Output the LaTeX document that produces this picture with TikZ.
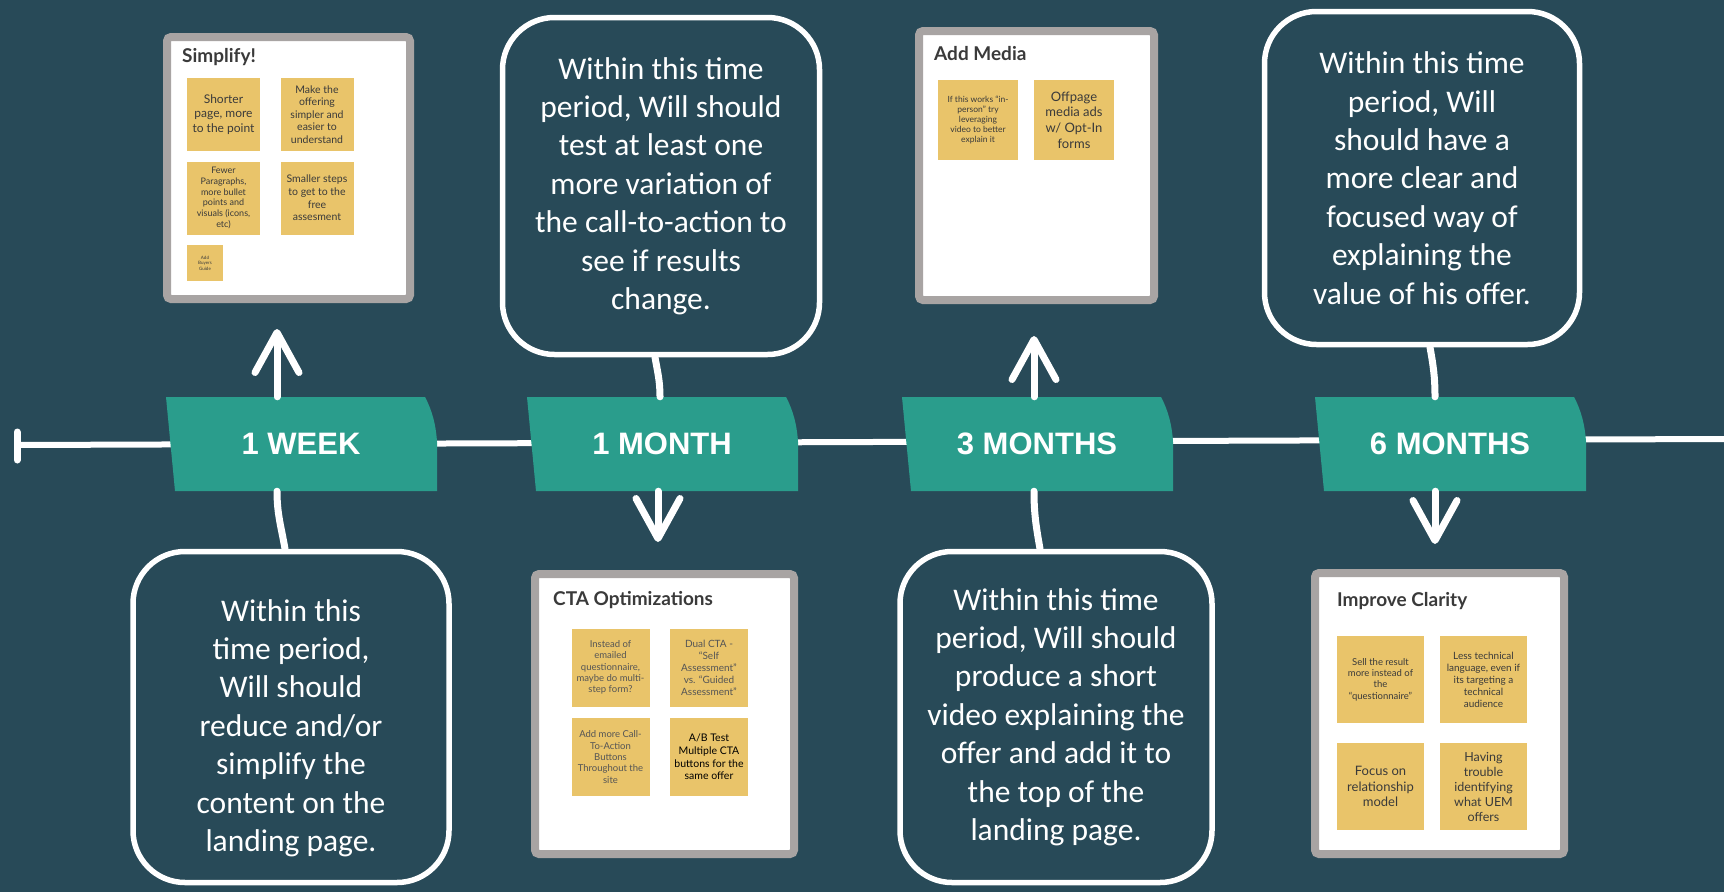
\documentclass[tikz,border=0pt]{standalone}
\usepackage{fontspec}
\setmainfont{Carlito}
\newfontfamily\tagfont{Liberation Sans}
\newfontfamily\notefont{Lato}
\usetikzlibrary{arrows.meta}

\definecolor{bg}{HTML}{284A58}
\definecolor{tagfill}{HTML}{2A9D8C}
\definecolor{notefill}{HTML}{E9C46A}
\definecolor{frame}{HTML}{A8A4A3}
\definecolor{ink}{HTML}{3A3A3A}
\definecolor{softink}{HTML}{555555}

% font size with 1.2 line spacing
\newcommand{\fs}[1]{\fontsize{#1}{\dimexpr#1pt*6/5\relax}\selectfont}

% teal date banner: #1 = left edge, #2 = name, #3 = label
\newcommand{\timetag}[3]{%
  \fill[tagfill] (#1,397) -- (#1+259,397)
    .. controls (#1+266,410) and (#1+270,425) .. (#1+271,442)
    -- (#1+271,491) -- (#1+9,491) -- cycle;
  \node[tag] (#2) at (#1+135,444) {#3};
}

\tikzset{
  callout/.style={draw=white, line width=5.5pt, rounded corners=52pt, align=center,
    text=white, font=\fontsize{31.5}{38.4}\selectfont},
  tag/.style={minimum width=262pt, minimum height=94pt, inner sep=0pt, text=white,
    font=\tagfont\bfseries\fontsize{31}{31}\selectfont},
  card/.style={draw=frame, fill=white, line width=8pt, rounded corners=4pt},
  cardtitle/.style={anchor=base west, inner sep=0pt, text=ink,
    font=\notefont\bfseries\fontsize{19}{22}\selectfont},
  note/.style={fill=notefill, minimum size=#1, inner sep=1pt, align=center, text=ink},
  stem/.style={draw=white, line width=7pt, line cap=round},
  vtip/.style={-{Straight Barb[length=40pt, width=44pt, line cap=round, line join=round]}}
}

\begin{document}
\begin{tikzpicture}[x=1pt, y=-1pt]
  \fill[bg] (0,0) rectangle (1724,892);
  \useasboundingbox (0,0) rectangle (1724,892);

  % Timeline
  \coordinate (start) at (17,445);
  \coordinate (end) at (1724,439);
  \draw[white, line width=6pt] (start) -- (end);
  \draw[stem] (17,432) -- (17,460);

  % Banners
  \timetag{166}{w1}{1 WEEK}
  \timetag{527}{m1}{1 MONTH}
  \timetag{902}{m3}{3 MONTHS}
  \timetag{1315}{m6}{6 MONTHS}

  % Boards
  \node[card, minimum width=243pt, minimum height=262pt] (simplify) at (288.5,168) {};
  \node[cardtitle] (simplifytitle) at (182,62) {Simplify!};
  \node[note=73pt, font=\notefont\fs{12}] (simp1) at (223.5,114.5) {Shorter\\page, more\\to the point};
  \node[note=73pt, font=\notefont\fs{10.5}] (simp2) at (317,114.5) {Make the\\offering\\simpler and\\easier to\\understand};
  \node[note=73pt, font=\notefont\fs{9}] (simp3) at (223.5,198) {Fewer\\Paragraphs,\\more bullet\\points and\\visuals (icons,\\etc)};
  \node[note=73pt, font=\notefont\fs{10.5}] (simp4) at (317,198) {Smaller steps\\to get to the\\free\\assesment};
  \node[note=36pt, font=\notefont\fs{4.5}] (simp5) at (205,263) {Add\\Buyers\\Guide};

  \node[card, minimum width=235pt, minimum height=269pt] (media) at (1036.5,165.5) {};
  \node[cardtitle] (mediatitle) at (934,60) {Add Media};
  \node[note=80pt, font=\notefont\fs{8.5}] (media1) at (978,120) {If this works “in-\\person” try\\leveraging\\video to better\\explain it};
  \node[note=80pt, font=\notefont\fs{13}] (media2) at (1074,120) {Offpage\\media ads\\w/ Opt-In\\forms};

  \node[card, minimum width=259pt, minimum height=280pt] (cta) at (664.5,714) {};
  \node[cardtitle] (ctatitle) at (553,605) {CTA Optimizations};
  \node[note=78pt, font=\notefont\fs{9.5}, text=softink] (cta1) at (610.5,667.5) {Instead of\\emailed\\questionnaire,\\maybe do multi-\\step form?};
  \node[note=78pt, font=\notefont\fs{10}, text=softink] (cta2) at (709,667.5) {Dual CTA -\\“Self\\Assessment”\\vs. “Guided\\Assessment”};
  \node[note=78pt, font=\notefont\fs{9.5}, text=softink] (cta3) at (610.5,757) {Add more Call-\\To-Action\\Buttons\\Throughout the\\site};
  \node[note=78pt, font=\notefont\fs{10.5}, text=black] (cta4) at (709,757) {A/B Test\\Multiple CTA\\buttons for the\\same offer};

  \node[card, minimum width=249pt, minimum height=281pt] (clarity) at (1439.5,713.5) {};
  \node[cardtitle] (claritytitle) at (1337,606) {Improve Clarity};
  \node[note=87pt, font=\notefont\fs{9.5}] (clar1) at (1380.5,679.5) {Sell the result\\more instead of\\the\\“questionnaire”};
  \node[note=87pt, font=\notefont\fs{10}] (clar2) at (1483.5,679.5) {Less technical\\language, even if\\its targeting a\\technical\\audience};
  \node[note=87pt, font=\notefont\fs{13}] (clar3) at (1380.5,786.5) {Focus on\\relationship\\model};
  \node[note=87pt, font=\notefont\fs{12.5}] (clar4) at (1483.5,786.5) {Having\\trouble\\identifying\\what UEM\\offers};

  % Callouts
  \node[callout, minimum width=316pt, minimum height=331pt] (c1) at (291,717)
    {\rule{0pt}{44pt}Within this\\time period,\\Will should\\reduce and/or\\simplify the\\content on the\\landing page.};
  \node[callout, minimum width=317pt, minimum height=337pt] (c2) at (661,186)
    {Within this time\\period, Will should\\test at least one\\more variation of\\the call-to-action to\\see if results\\change.};
  \node[callout, minimum width=312pt, minimum height=331pt] (c3) at (1056,717)
    {Within this time\\period, Will should\\produce a short\\video explaining the\\offer and add it to\\the top of the\\landing page.};
  \node[callout, minimum width=315pt, minimum height=333pt] (c4) at (1422,178)
    {Within this time\\period, Will\\should have a\\more clear and\\focused way of\\explaining the\\value of his offer.};

  % Arrows to the boards
  \draw[stem, vtip, shorten >=26pt] ([xshift=-24]w1.north) -- ([xshift=-24]w1.north |- simplify.south);
  \draw[stem, vtip, shorten >=28pt] ([xshift=-4]m1.south) -- ([xshift=-4]m1.south |- cta.north);
  \draw[stem, vtip, shorten >=32pt] ([xshift=-3]m3.north) -- ([xshift=-3]m3.north |- media.south);
  \draw[stem, vtip, shorten >=25pt] ([xshift=-15]m6.south) -- ([xshift=-15]m6.south |- clarity.north);

  % Callout stems
  \draw[stem] ([xshift=-24]w1.south) to[out=-90, in=100] ([xshift=-6]c1.north);
  \draw[stem] ([xshift=-6]c2.south) to[out=-80, in=90] ([xshift=-2]m1.north);
  \draw[stem] ([xshift=-3]m3.south) to[out=-90, in=100] ([xshift=-16]c3.north);
  \draw[stem] ([xshift=8]c4.south) to[out=-80, in=90] ([xshift=-15]m6.north);
\end{tikzpicture}
\end{document}
